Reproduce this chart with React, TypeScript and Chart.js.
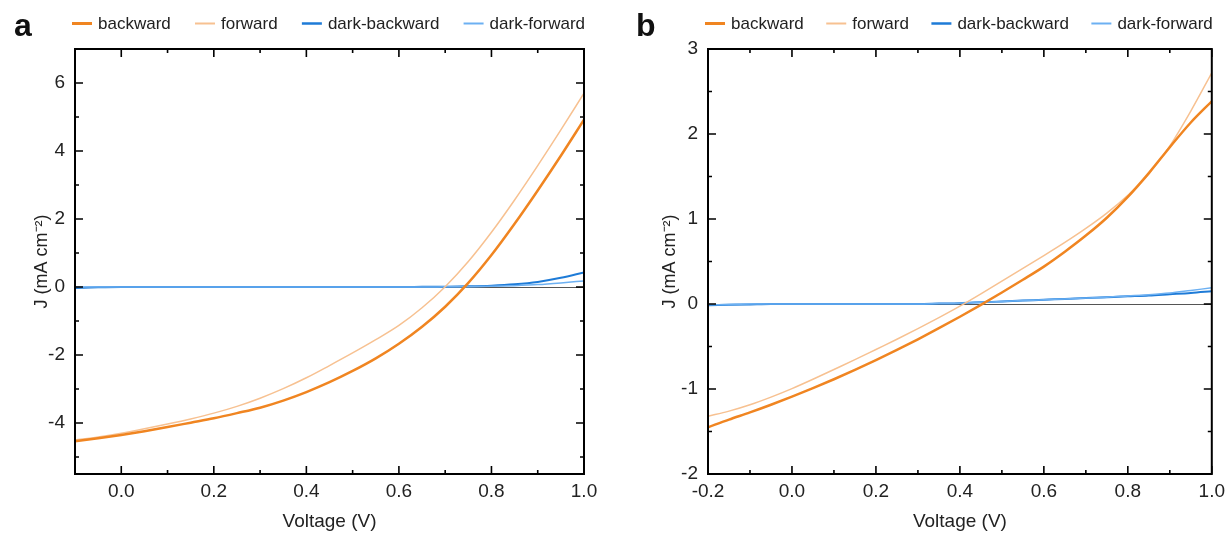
import React, { useEffect, useRef } from 'react';
import { Chart, registerables } from 'chart.js';

Chart.register(...registerables);

const FONT = 'Arial, "Liberation Sans", sans-serif';

// ---------- Data ----------
const seriesLabels = ['backward', 'forward', 'dark-backward', 'dark-forward'];
const seriesColors = ['#F08521', '#F7C191', '#1E7BD7', '#6CB0F2'];
const seriesWidths = [2.5, 1.5, 2, 1.5];

// Panel a
const voltageA = [-0.1, -0.05, 0, 0.05, 0.1, 0.15, 0.2, 0.25, 0.3, 0.35, 0.4, 0.45, 0.5, 0.55, 0.6, 0.65, 0.7, 0.75, 0.8, 0.85, 0.9, 0.95, 1.0];
const backwardA = [-4.54, -4.45, -4.35, -4.24, -4.12, -3.99, -3.86, -3.71, -3.55, -3.34, -3.09, -2.8, -2.47, -2.1, -1.67, -1.17, -0.58, 0.12, 0.94, 1.86, 2.84, 3.86, 4.92];
const forwardA = [-4.5, -4.41, -4.3, -4.17, -4.03, -3.88, -3.71, -3.51, -3.27, -2.99, -2.67, -2.31, -1.94, -1.55, -1.13, -0.61, 0.01, 0.75, 1.61, 2.56, 3.57, 4.62, 5.7];
const darkBackwardA = [-0.03, -0.01, 0, 0, 0, 0, 0, 0, 0, 0, 0, 0, 0, 0, 0, 0.005, 0.01, 0.02, 0.04, 0.08, 0.15, 0.27, 0.43];
const darkForwardA = [0, 0, 0, 0, 0, 0, 0, 0, 0, 0, 0, 0, 0, 0, 0, 0, 0.005, 0.01, 0.02, 0.04, 0.07, 0.12, 0.18];

const xMajorA = [0, 0.2, 0.4, 0.6, 0.8, 1.0];
const xMinorA = [0.1, 0.3, 0.5, 0.7, 0.9];
const yMajorA = [-4, -2, 0, 2, 4, 6];
const yMinorA = [-5, -3, -1, 1, 3, 5];

// Panel b
const voltageB = [-0.2, -0.15, -0.1, -0.05, 0, 0.05, 0.1, 0.15, 0.2, 0.25, 0.3, 0.35, 0.4, 0.45, 0.5, 0.55, 0.6, 0.65, 0.7, 0.75, 0.8, 0.85, 0.9, 0.95, 1.0];
const backwardB = [-1.45, -1.36, -1.275, -1.185, -1.09, -0.99, -0.885, -0.775, -0.66, -0.54, -0.415, -0.285, -0.15, -0.01, 0.135, 0.285, 0.44, 0.615, 0.805, 1.015, 1.26, 1.54, 1.845, 2.135, 2.385];
const forwardB = [-1.32, -1.26, -1.185, -1.095, -0.995, -0.885, -0.77, -0.655, -0.535, -0.415, -0.29, -0.16, -0.025, 0.12, 0.27, 0.42, 0.57, 0.725, 0.89, 1.07, 1.28, 1.53, 1.86, 2.27, 2.72];
const darkBackwardB = [-0.015, -0.01, -0.005, 0, 0, 0, 0, 0, 0, 0, 0, 0.005, 0.01, 0.02, 0.03, 0.04, 0.05, 0.06, 0.07, 0.08, 0.09, 0.1, 0.115, 0.13, 0.15];
const darkForwardB = [-0.01, -0.005, 0, 0, 0, 0, 0, 0, 0, 0, 0, 0.005, 0.01, 0.02, 0.03, 0.04, 0.05, 0.06, 0.07, 0.08, 0.095, 0.11, 0.13, 0.16, 0.19];

const xMajorB = [-0.2, 0, 0.2, 0.4, 0.6, 0.8, 1.0];
const xMinorB = [-0.1, 0.1, 0.3, 0.5, 0.7, 0.9];
const yMajorB = [-2, -1, 0, 1, 2, 3];
const yMinorB = [-1.5, -0.5, 0.5, 1.5, 2.5];

const xTitle = 'Voltage (V)';
const yTitle = 'J (mA cm\u207B\u00B2)';

// ---------- Plugins ----------
const framePlugin = {
  id: 'frame',
  afterDatasetsDraw(chart: any, _args: any, opts: any) {
    const { ctx, chartArea } = chart;
    const { left, right, top, bottom } = chartArea;
    const xs = chart.scales.x;
    const ys = chart.scales.y;
    ctx.save();
    ctx.strokeStyle = '#000';
    ctx.lineWidth = 1.6;
    ctx.beginPath();
    const tickX = (vals: number[], len: number) => {
      vals.forEach((v) => {
        const p = xs.getPixelForValue(v);
        ctx.moveTo(p, bottom);
        ctx.lineTo(p, bottom - len);
        ctx.moveTo(p, top);
        ctx.lineTo(p, top + len);
      });
    };
    const tickY = (vals: number[], len: number) => {
      vals.forEach((v) => {
        const p = ys.getPixelForValue(v);
        ctx.moveTo(left, p);
        ctx.lineTo(left + len, p);
        ctx.moveTo(right, p);
        ctx.lineTo(right - len, p);
      });
    };
    tickX(opts.xMajor, 8);
    tickX(opts.xMinor, 4);
    tickY(opts.yMajor, 8);
    tickY(opts.yMinor, 4);
    ctx.stroke();
    ctx.lineWidth = 2;
    ctx.strokeRect(left, top, right - left, bottom - top);
    ctx.restore();
  },
};

const legendPlugin = {
  id: 'lineLegend',
  afterDraw(chart: any, _args: any, opts: any) {
    const { ctx, chartArea } = chart;
    const items = chart.data.datasets;
    ctx.save();
    ctx.font = `${opts.fontSize}px ${FONT}`;
    const widths = items.map((d: any) => ctx.measureText(d.label).width);
    const lineLen = 20;
    const gap = 6;
    const start = chartArea.left + opts.startOffset;
    const end = chartArea.right + opts.endOffset;
    const used = widths.reduce((a: number, b: number) => a + b, 0) + items.length * (lineLen + gap);
    const spacing = (end - start - used) / (items.length - 1);
    let x = start;
    const y = opts.y;
    items.forEach((d: any, i: number) => {
      ctx.strokeStyle = d.borderColor;
      ctx.lineWidth = d.borderWidth + 0.5;
      ctx.beginPath();
      ctx.moveTo(x, y);
      ctx.lineTo(x + lineLen, y);
      ctx.stroke();
      ctx.fillStyle = '#222';
      ctx.textBaseline = 'middle';
      ctx.textAlign = 'left';
      ctx.fillText(d.label, x + lineLen + gap, y + 1);
      x += lineLen + gap + widths[i] + spacing;
    });
    ctx.restore();
  },
};

function makeDatasets(v: number[], series: number[][]) {
  const drawOrder = [0, 1, 3, 2];
  return series.map((vals, i) => ({
    label: seriesLabels[i],
    data: v.map((x, k) => ({ x, y: vals[k] })),
    borderColor: seriesColors[i],
    backgroundColor: seriesColors[i],
    borderWidth: seriesWidths[i],
    pointRadius: 0,
    cubicInterpolationMode: 'monotone' as const,
    order: drawOrder[i],
    fill: false,
  }));
}

interface PanelCfg {
  voltage: number[];
  series: number[][];
  xMin: number;
  xMax: number;
  yMin: number;
  yMax: number;
  xMajor: number[];
  xMinor: number[];
  yMajor: number[];
  yMinor: number[];
  yAxisWidth: number;
  rightPad: number;
  yTitlePad: number;
}

function buildChart(canvas: HTMLCanvasElement, c: PanelCfg) {
  return new Chart(canvas, {
    type: 'line',
    data: { datasets: makeDatasets(c.voltage, c.series) as any },
    options: {
      animation: false,
      responsive: false,
      maintainAspectRatio: false,
      events: [],
      layout: { padding: { top: 49, right: c.rightPad, left: 0, bottom: 0 } },
      plugins: {
        legend: { display: false },
        tooltip: { enabled: false },
        frame: { xMajor: c.xMajor, xMinor: c.xMinor, yMajor: c.yMajor, yMinor: c.yMinor },
        lineLegend: { fontSize: 17, y: 23.5, startOffset: -3, endOffset: 1 },
      } as any,
      scales: {
        x: {
          type: 'linear',
          min: c.xMin,
          max: c.xMax,
          afterBuildTicks: (s: any) => {
            s.ticks = c.xMajor.map((value) => ({ value }));
          },
          afterFit: (s: any) => {
            s.height = 59;
          },
          ticks: {
            autoSkip: false,
            maxRotation: 0,
            padding: 6,
            color: '#222',
            font: { family: FONT, size: 19 },
            callback: (v: any) => Number(v).toFixed(1),
          },
          grid: { display: false, drawTicks: false },
          border: { display: false },
          title: {
            display: true,
            text: xTitle,
            color: '#222',
            font: { family: FONT, size: 19 },
            padding: { top: 0, bottom: 0 },
          },
        },
        y: {
          type: 'linear',
          min: c.yMin,
          max: c.yMax,
          afterBuildTicks: (s: any) => {
            s.ticks = c.yMajor.map((value) => ({ value }));
          },
          afterFit: (s: any) => {
            s.width = c.yAxisWidth;
          },
          ticks: {
            autoSkip: false,
            padding: 10,
            color: '#222',
            font: { family: FONT, size: 19 },
            callback: (v: any) => String(v),
          },
          grid: {
            display: true,
            drawTicks: false,
            lineWidth: 1,
            color: (ctx: any) => (ctx.tick && ctx.tick.value === 0 ? '#555' : 'rgba(0,0,0,0)'),
          },
          border: { display: false },
          title: {
            display: true,
            text: yTitle,
            color: '#222',
            font: { family: FONT, size: 18 },
            padding: { top: c.yTitlePad, bottom: 0 },
          },
        },
      },
    },
    plugins: [framePlugin, legendPlugin],
  } as any);
}

const panelA: PanelCfg = {
  voltage: voltageA,
  series: [backwardA, forwardA, darkBackwardA, darkForwardA],
  xMin: -0.1,
  xMax: 1.0,
  yMin: -5.5,
  yMax: 7,
  xMajor: xMajorA,
  xMinor: xMinorA,
  yMajor: yMajorA,
  yMinor: yMinorA,
  yAxisWidth: 75,
  rightPad: 31,
  yTitlePad: 31,
};

const panelB: PanelCfg = {
  voltage: voltageB,
  series: [backwardB, forwardB, darkBackwardB, darkForwardB],
  xMin: -0.2,
  xMax: 1.0,
  yMin: -2,
  yMax: 3,
  xMajor: xMajorB,
  xMinor: xMinorB,
  yMajor: yMajorB,
  yMinor: yMinorB,
  yAxisWidth: 93,
  rightPad: 14,
  yTitlePad: 44,
};

export default function App() {
  const refA = useRef<HTMLCanvasElement>(null);
  const refB = useRef<HTMLCanvasElement>(null);

  useEffect(() => {
    document.body.style.margin = '0';
    const a = buildChart(refA.current!, panelA);
    const b = buildChart(refB.current!, panelB);
    return () => {
      a.destroy();
      b.destroy();
    };
  }, []);

  const letterStyle: React.CSSProperties = {
    position: 'absolute',
    top: 9,
    fontFamily: FONT,
    fontWeight: 'bold',
    fontSize: 32,
    lineHeight: '32px',
    color: '#111',
  };

  return (
    <div style={{ position: 'absolute', left: 0, top: 0, width: 1231, height: 533, background: '#fff' }}>
      <canvas ref={refA} width={615} height={533} style={{ position: 'absolute', left: 0, top: 0, width: 615, height: 533 }} />
      <canvas ref={refB} width={616} height={533} style={{ position: 'absolute', left: 615, top: 0, width: 616, height: 533 }} />
      <div style={{ ...letterStyle, left: 14 }}>a</div>
      <div style={{ ...letterStyle, left: 636 }}>b</div>
    </div>
  );
}
